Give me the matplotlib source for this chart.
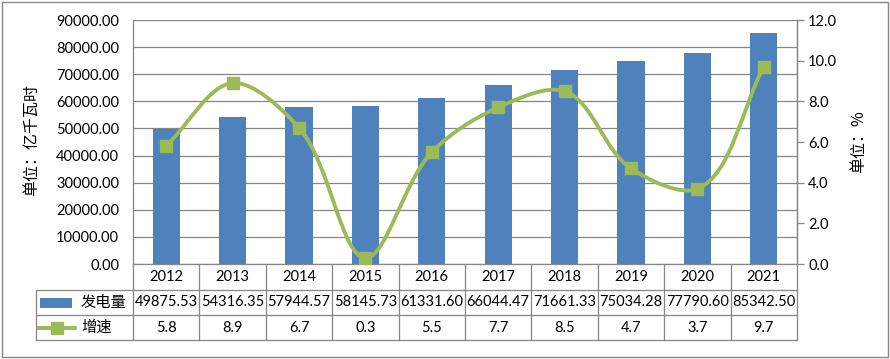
import matplotlib
matplotlib.use("Agg")
import matplotlib.pyplot as plt
from matplotlib.path import Path
from matplotlib.patches import PathPatch, Rectangle
from matplotlib.lines import Line2D
from matplotlib.transforms import blended_transform_factory
import numpy as np

years = ["2012", "2013", "2014", "2015", "2016", "2017", "2018", "2019", "2020", "2021"]
generation = [49875.53, 54316.35, 57944.57, 58145.73, 61331.60, 66044.47, 71661.33, 75034.28, 77790.60, 85342.50]
growth = [5.8, 8.9, 6.7, 0.3, 5.5, 7.7, 8.5, 4.7, 3.7, 9.7]
series_names = ["发电量", "增速"]
left_label = "单位：亿千瓦时"
right_label = "单位：%"

BLUE = "#4F81BD"
GREEN = "#9BBB59"
GRID = "#868686"
NUM_FONT = ["Lato", "DejaVu Sans"]
CJK_FONT = ["Noto Sans CJK SC", "DejaVu Sans"]
FS = 10.5

W, H = 890, 359
fig = plt.figure(figsize=(W / 100, H / 100), dpi=100)
fig.patch.set_facecolor("white")

def fx(px):
    return px / W

def fy(py):
    return 1 - py / H

L, R, T, B = 133, 797, 20, 264
ax = fig.add_axes([fx(L), fy(B), fx(R) - fx(L), fy(T) - fy(B)])
ax2 = ax.twinx()

n = len(years)
x = np.arange(n)
ax.bar(x, generation, width=0.41, color=BLUE, zorder=2)
ax.set_xlim(-0.5, n - 0.5)
ax.set_ylim(0, 90000)
ax.set_yticks(np.arange(0, 90001, 10000))
ax.set_yticklabels([f"{v:.2f}" for v in np.arange(0, 90001, 10000)], fontfamily=NUM_FONT, fontsize=FS)
ax.tick_params(axis="y", length=0, pad=10)
ax.set_xticks([])
ax.grid(axis="y", color=GRID, lw=0.9, zorder=0)
ax.set_axisbelow(True)
ax.spines["top"].set_visible(False)
for s in ["left", "bottom", "right"]:
    ax.spines[s].set_color(GRID)
    ax.spines[s].set_linewidth(0.9)

ax2.set_ylim(0, 12)
ax2.set_yticks(np.arange(0, 12.01, 2))
ax2.set_yticklabels([f"{v:.1f}" for v in np.arange(0, 12.01, 2)], fontfamily=NUM_FONT, fontsize=FS)
ax2.tick_params(axis="y", length=5, color=GRID, width=0.9, pad=3)
for s in ["top", "left", "bottom"]:
    ax2.spines[s].set_visible(False)
ax2.spines["right"].set_color(GRID)
ax2.spines["right"].set_linewidth(0.9)

# smoothed line: Bezier through data points, handles computed in screen space
sx = (R - L) / n
sy = (B - T) / 12.0
P = np.column_stack([x * sx, np.array(growth) * sy]).astype(float)
h_before = [None] * n
h_after = [None] * n
for i in range(n):
    if i == 0 or i == n - 1:
        j0, j1 = (0, 1) if i == 0 else (n - 2, n - 1)
        d = P[j1] - P[j0]
        h = d / 3
        h_before[i] = h
        h_after[i] = h
        continue
    a = P[i] - P[i - 1]
    b = P[i + 1] - P[i]
    la, lb = np.linalg.norm(a), np.linalg.norm(b)
    u = a / la + b / lb
    u = u / np.linalg.norm(u)
    mag = np.linalg.norm(P[i + 1] - P[i - 1]) / 6
    h_before[i] = u * mag * 2 * la / (la + lb)
    h_after[i] = u * mag * 2 * lb / (la + lb)
verts = [tuple(P[0])]
codes = [Path.MOVETO]
for i in range(n - 1):
    c1 = P[i] + h_after[i]
    c2 = P[i + 1] - h_before[i + 1]
    verts += [tuple(c1), tuple(c2), tuple(P[i + 1])]
    codes += [Path.CURVE4] * 3
verts = [(vx / sx, vy / sy) for vx, vy in verts]
ax2.add_patch(PathPatch(Path(verts, codes), facecolor="none", edgecolor=GREEN, lw=2.8, zorder=3, capstyle="round"))
ax2.plot(x, growth, ls="none", marker="s", ms=9, color=GREEN, mec=GREEN, zorder=4)

ax.text(fx(31), fy(140), left_label, transform=fig.transFigure, rotation=90,
        ha="center", va="center", fontfamily=CJK_FONT, fontsize=11.5)
ax.text(fx(859), fy(142), right_label, transform=fig.transFigure, rotation=90,
        ha="center", va="center", fontfamily=CJK_FONT, fontsize=11.5)

# data table
tr = blended_transform_factory(ax.transData, fig.transFigure)
row_y = [264, 290, 315, 340]

def hline(x0, x1, y, trans):
    fig.add_artist(Line2D([x0, x1], [fy(y), fy(y)], transform=trans, color=GRID, lw=0.9))

def vline(xv, y0, y1, trans):
    fig.add_artist(Line2D([xv, xv], [fy(y0), fy(y1)], transform=trans, color=GRID, lw=0.9))

hline(fx(36), fx(R), row_y[1], fig.transFigure)
hline(fx(36), fx(R), row_y[2], fig.transFigure)
hline(fx(36), fx(R), row_y[3], fig.transFigure)
vline(fx(36), row_y[1], row_y[3], fig.transFigure)
for b in np.arange(-0.5, n, 1.0):
    vline(b, row_y[0], row_y[3], tr)

for i in range(n):
    ax.text(x[i], fy((row_y[0] + row_y[1]) / 2), years[i], transform=tr, ha="center", va="center",
            fontfamily=NUM_FONT, fontsize=FS)
    ax.text(x[i], fy((row_y[1] + row_y[2]) / 2), f"{generation[i]:.2f}", transform=tr, ha="center",
            va="center", fontfamily=NUM_FONT, fontsize=FS)
    ax.text(x[i], fy((row_y[2] + row_y[3]) / 2), f"{growth[i]:.1f}", transform=tr, ha="center",
            va="center", fontfamily=NUM_FONT, fontsize=FS)

# legend keys in table
fig.add_artist(Rectangle((fx(40), fy(308)), fx(72) - fx(40), fy(298) - fy(308), transform=fig.transFigure,
                         facecolor=BLUE, edgecolor="none"))
fig.add_artist(Line2D([fx(39), fx(75)], [fy(327.5), fy(327.5)], transform=fig.transFigure, color=GREEN, lw=2.8))
fig.add_artist(Line2D([fx(57)], [fy(327.5)], transform=fig.transFigure, color=GREEN, marker="s", ms=8, ls="none"))
fig.text(fx(81), fy(303), series_names[0], ha="left", va="center", fontfamily=CJK_FONT, fontsize=11)
fig.text(fx(81), fy(327.5), series_names[1], ha="left", va="center", fontfamily=CJK_FONT, fontsize=11)

# outer frame
fig.add_artist(Rectangle((fx(2), fy(356.5)), fx(887.5) - fx(2), fy(2) - fy(356.5), transform=fig.transFigure,
                         facecolor="none", edgecolor=GRID, lw=1.0))

fig.savefig("out.png", dpi=100, facecolor="white")
